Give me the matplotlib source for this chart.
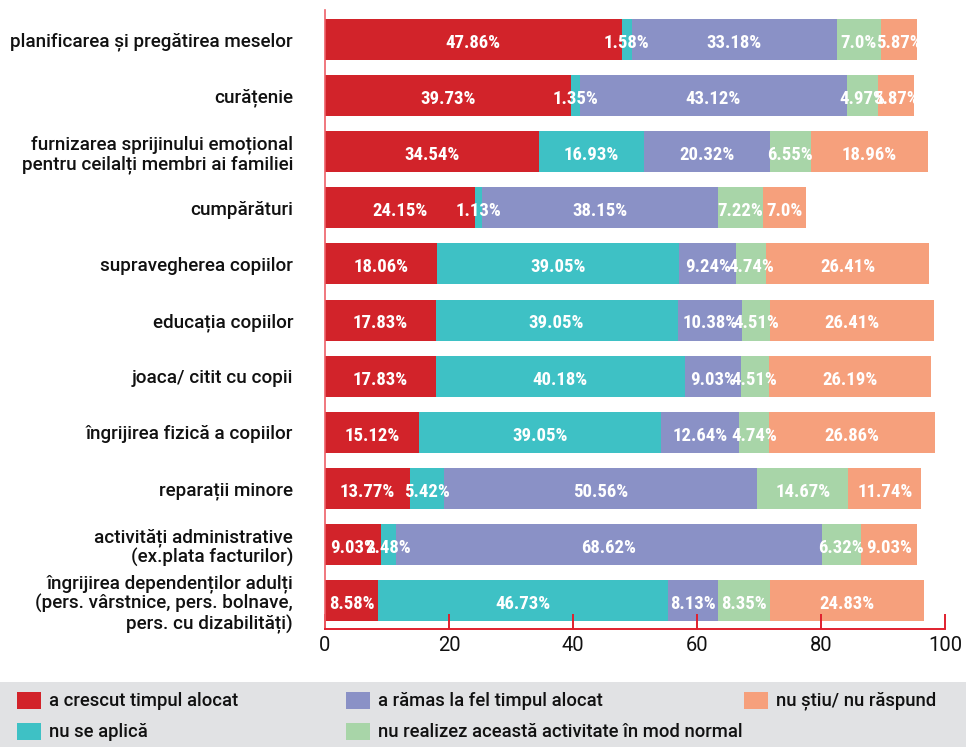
import matplotlib
matplotlib.use("Agg")
from matplotlib import pyplot as plt
from matplotlib import font_manager
from matplotlib.patches import Rectangle
import numpy as np

categories = [
    "planificarea și pregătirea meselor",
    "curățenie",
    "furnizarea sprijinului emoțional\npentru ceilalți membri ai familiei",
    "cumpărături",
    "supravegherea copiilor",
    "educația copiilor",
    "joaca/ citit cu copii",
    "îngrijirea fizică a copiilor",
    "reparații minore",
    "activități administrative\n(ex.plata facturilor)",
    "îngrijirea dependenților adulți\n(pers. vârstnice, pers. bolnave,\npers. cu dizabilități)",
]

series_names = [
    "a crescut timpul alocat",
    "nu se aplică",
    "a rămas la fel timpul alocat",
    "nu realizez această activitate în mod normal",
    "nu știu/ nu răspund",
]
colors = ["#D2232A", "#3EC1C5", "#8A91C6", "#A8D5A8", "#F6A07C"]

crescut = [47.86, 39.73, 34.54, 24.15, 18.06, 17.83, 17.83, 15.12, 13.77, 9.03, 8.58]
nu_se_aplica = [1.58, 1.35, 16.93, 1.13, 39.05, 39.05, 40.18, 39.05, 5.42, 2.48, 46.73]
ramas = [33.18, 43.12, 20.32, 38.15, 9.24, 10.38, 9.03, 12.64, 50.56, 68.62, 8.13]
nu_realizez = [7.0, 4.97, 6.55, 7.22, 4.74, 4.51, 4.51, 4.74, 14.67, 6.32, 8.35]
nu_stiu = [5.87, 5.87, 18.96, 7.0, 26.41, 26.41, 26.19, 26.86, 11.74, 9.03, 24.83]

series = [crescut, nu_se_aplica, ramas, nu_realizez, nu_stiu]
xticks = [0, 20, 40, 60, 80, 100]


def first_font(names):
    have = {f.name for f in font_manager.fontManager.ttflist}
    for n in names:
        if n in have:
            return n
    return "DejaVu Sans"


text_font = first_font(["Roboto", "Lato", "Open Sans", "DejaVu Sans"])
label_font = first_font(["Liberation Sans Narrow", "DejaVu Sans Condensed",
                         "Roboto Condensed", "Roboto"])
label_size = 13.5 if label_font in ("Liberation Sans Narrow", "Roboto Condensed") else 11

W, H = 966, 747
fig = plt.figure(figsize=(W / 100, H / 100), dpi=100)
ax = fig.add_axes([325 / W, 1 - 629 / H, (945 - 325) / W, (629 - 10) / H])

y = np.arange(len(categories))
left = np.zeros(len(categories))
for vals, name, col in zip(series, series_names, colors):
    vals = np.array(vals)
    ax.barh(y, vals, left=left, height=0.73, color=col, label=name)
    for yi, l, v in zip(y, left, vals):
        ax.text(l + v / 2, yi + 0.06, f"{v}%", ha="center", va="center",
                color="white", fontsize=label_size, fontweight="bold",
                family=label_font)
    left += vals

ax.set_xlim(0, 100)
ax.set_ylim(10.5, -0.52)
ax.set_yticks(y)
ax.set_yticklabels(categories, family=text_font, fontsize=13.6,
                   fontweight="medium", color="#111111", linespacing=1.1)
ax.tick_params(axis="y", length=0, pad=23)
ax.set_xticks(xticks)
ax.set_xticklabels([str(t) for t in xticks], family=text_font, fontsize=14.5,
                   color="#111111")
ax.tick_params(axis="x", direction="in", length=11, width=1.4, color="#E0202E",
               pad=5)
for s in ["top", "right"]:
    ax.spines[s].set_visible(False)
ax.spines["bottom"].set_color("#E0202E")
ax.spines["bottom"].set_linewidth(1.4)
ax.spines["left"].set_color("#EE6068")
ax.spines["left"].set_linewidth(1.2)

# legend box along the bottom edge
fig.add_artist(Rectangle((0, 0), 1, (H - 682) / H, transform=fig.transFigure,
                         facecolor="#E1E2E4", edgecolor="none", zorder=0))
slots = [(17, 700), (17, 731), (346, 700), (346, 731), (744, 700)]
for (px, py), name, col in zip(slots, series_names, colors):
    fig.add_artist(Rectangle((px / W, 1 - (py + 8.5) / H), 24 / W, 17 / H,
                             transform=fig.transFigure, facecolor=col,
                             edgecolor="none"))
    fig.text((px + 32) / W, 1 - (py + 1) / H, name, ha="left", va="center",
             family=text_font, fontsize=13.3, fontweight="medium",
             color="#111111")

fig.savefig("out.png", dpi=100)
